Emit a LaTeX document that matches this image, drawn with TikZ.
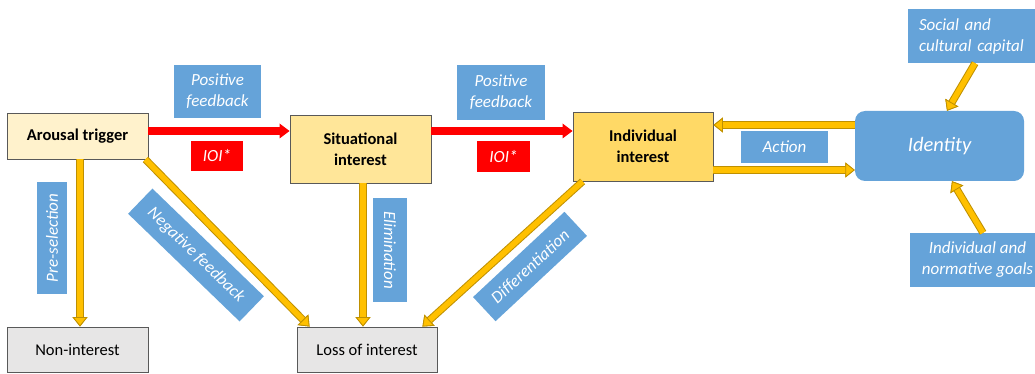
\documentclass[tikz,border=0pt]{standalone}
\usepackage{fontspec}
\setmainfont{Carlito}
\usetikzlibrary{arrows.meta,calc}
\definecolor{trigfill}{HTML}{FFF2CC}
\definecolor{sitfill}{HTML}{FFE699}
\definecolor{indfill}{HTML}{FFD966}
\definecolor{greyfill}{HTML}{E7E6E6}
\definecolor{boxline}{HTML}{595959}
\definecolor{labelblue}{HTML}{65A3D9}
\definecolor{gold}{HTML}{FFC000}
\definecolor{golddark}{HTML}{BF9000}
\definecolor{ioired}{HTML}{FF0000}
\tikzset{
  stage/.style={draw=boxline, line width=0.9pt, inner sep=0pt, align=center,
    font=\fontsize{16.5}{21}\selectfont\bfseries},
  endstate/.style={draw=boxline, line width=0.9pt, inner sep=0pt, align=center,
    fill=greyfill, font=\fontsize{16.5}{21}\selectfont},
  tag/.style={fill=labelblue, text=white, inner sep=0pt, align=center,
    font=\fontsize{17}{21}\selectfont\itshape},
  ioi/.style={fill=ioired, text=white, inner sep=0pt,
    font=\fontsize{17}{21}\selectfont\itshape},
  tipY/.tip={Triangle[width=15pt,length=9.5pt,line width=0.8pt,fill=gold,color=golddark]},
  flow/.style={draw=gold, line width=5.5pt, -{tipY},
    preaction={draw=golddark, line width=7.5pt, -{tipY}}},
  advance/.style={draw=ioired, line width=8pt,
    -{Triangle[width=15pt,length=10pt,line width=0pt]}}
}
\begin{document}
\begin{tikzpicture}[x=1pt,y=-1pt]
\useasboundingbox (0,0) rectangle (1035,374);

% stages of interest
\node[stage, fill=trigfill, minimum width=141pt, minimum height=46pt] (trig) at (77.5,136) {Arousal trigger};
\node[stage, fill=sitfill, minimum width=141pt, minimum height=68pt] (sit) at (360.5,149) {Situational\\interest};
\node[stage, fill=indfill, minimum width=140pt, minimum height=69pt] (ind) at (643,146.5) {Individual\\interest};
\node[tag, rounded corners=10pt, minimum width=169pt, minimum height=70pt,
      font=\fontsize{20.5}{24}\selectfont\itshape] (ident) at (939.5,146) {Identity};

% outcomes
\node[endstate, minimum width=141pt, minimum height=45pt] (non) at (77.5,349.5) {Non-interest};
\node[endstate, minimum width=140pt, minimum height=45pt] (loss) at (367,349.5) {Loss of interest};

% influences on identity
\node[tag, minimum width=127pt, minimum height=54pt, align=left, text width=105pt,
      inner xsep=11pt] (capital) at (971.5,36) {Social and\\cultural capital};
\node[tag, minimum width=125pt, minimum height=54pt] (goals) at (972.5,260) {\hspace*{10pt}Individual and\\\hspace*{10pt}normative goals};

% transition labels
\node[tag, minimum width=87pt, minimum height=53pt] (pf1) at (217.5,91.5) {Positive\\feedback};
\node[ioi, minimum width=52pt, minimum height=30pt] (ioi1) at (217,156) {IOI*};
\node[tag, minimum width=88pt, minimum height=55pt] (pf2) at (501,92.5) {Positive\\feedback};
\node[ioi, minimum width=53pt, minimum height=31pt] (ioi2) at (503.5,156.5) {IOI*};
\node[tag, minimum width=87pt, minimum height=32pt] (act) at (784.5,147) {Action};
\node[tag, rotate=90, minimum width=112pt, minimum height=30pt] (presel) at (52,238) {Pre-selection};
\node[tag, rotate=-90, minimum width=104pt, minimum height=34pt] (elim) at (390,250) {Elimination};
\node[tag, rotate=-44, minimum width=155pt, minimum height=35pt] (negfb) at (196,255) {Negative feedback};
\node[tag, rotate=43, minimum width=125pt, minimum height=33pt] (diff) at (530,266.5) {Differentiation};

% progression of interest
\draw[advance] ([yshift=5pt]trig.east) -- ([yshift=5pt]trig.east -| sit.west);
\draw[advance] ([yshift=18pt]sit.east) -- ([yshift=18pt]sit.east -| ind.west);

% loss and rejection paths
\draw[flow] ([xshift=2.5pt]trig.south) -- ([xshift=2.5pt]trig.south |- non.north);
\draw[flow] ([xshift=-3pt]trig.south east) -- ([xshift=13pt]loss.north west);
\draw[flow] ([xshift=2.5pt]sit.south) -- ([xshift=2.5pt]sit.south |- loss.north);
\draw[flow] ([xshift=10pt]ind.south west) -- ([xshift=-15pt]loss.north east);

% identity loop
\draw[flow] ([yshift=21pt]ident.west) -- ([yshift=21pt]ident.west -| ind.east);
\draw[flow] ([yshift=-23.5pt]ind.east) -- ([yshift=-23.5pt]ind.east -| ident.west);
\draw[flow] ([xshift=3.5pt]capital.south) -- ([xshift=7.5pt]ident.north);
\draw[flow] ([xshift=10.5pt]goals.north) -- ([xshift=12.5pt]ident.south);
\end{tikzpicture}
\end{document}
